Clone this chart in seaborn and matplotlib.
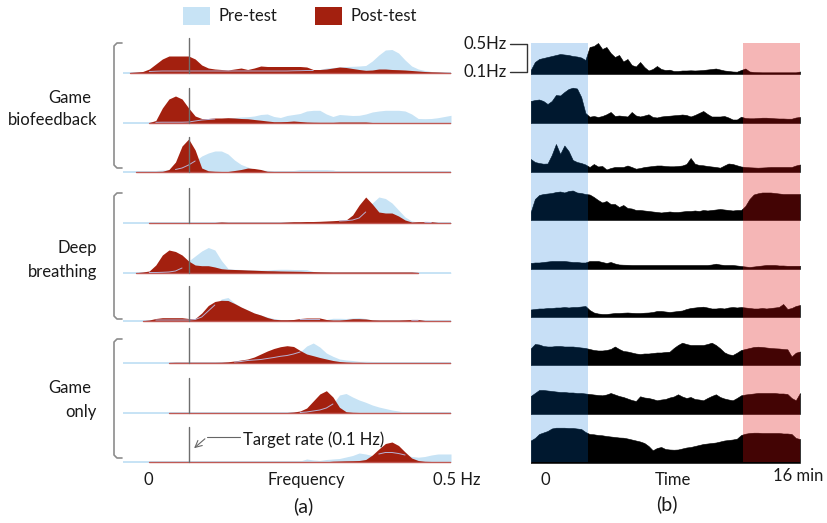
import numpy as np
import matplotlib
matplotlib.use("Agg")
import matplotlib.pyplot as plt
from matplotlib.patches import Rectangle
import seaborn as sns

# ---- data ------------------------------------------------------------------
freq = np.linspace(0, 0.5, 51)       # Hz, spectra grid
minutes = np.linspace(0, 16, 65)     # session time grid
target_hz = 0.1
pre_window = [0, 3.4]                # min, pre-test part of the session
post_window = [12.6, 16]             # min, post-test part

# spectra (pre-test / post-test), 3 subjects per group
pre_bio_1 = [0.5, 1, 1.2, 1.5, 1.5, 1.8, 2, 2, 2, 2, 2, 2, 2, 2, 2, 2, 2, 2, 2, 2,
             2, 2, 2, 2, 2, 2, 2.2, 2.3, 2.5, 2.5, 3.5, 5, 5.5, 6, 6.5, 6.7, 7, 7.5, 12, 18,
             23, 23.5, 20, 13, 7, 4, 2.5, 1.5, 1, 0.7, 0.5]
post_bio_1 = [0, 0.5, 1, 1.5, 4, 9, 14, 17, 17, 17, 17, 14, 8, 5, 4, 3.5, 3, 4, 5, 3.5,
              5, 7, 6.5, 6.5, 6.5, 6.5, 6.5, 6.5, 6, 3.5, 3.5, 4, 5, 6, 5.5, 4.5, 3.5, 2.7, 3, 4,
              4, 3.5, 3.3, 3, 2.5, 2, 1.5, 1.2, 1, 0.7, 0.5]
pre_bio_2 = [0.5, 0.5, 0.5, 0.5, 0.5, 0.7, 0.8, 0.8, 0.8, 0.8, 1, 2, 3, 3.5, 4, 4.5, 5, 5.5, 6, 6.3,
             7, 8.5, 9, 6.5, 5.5, 7.5, 8.5, 9.5, 12, 12.7, 12.7, 9, 6.5, 8.5, 8, 7.5, 7.7, 9, 11, 12,
             12.7, 12.7, 12.7, 12, 9, 4.5, 4.3, 4.5, 5.3, 6.5, 7.7]
post_bio_2 = [0, 0, 0, 0, 0.5, 2.5, 15, 24, 27, 24, 15, 7, 4.5, 4.5, 5, 5, 5.3, 5, 4.5, 4.3,
              3.5, 2.8, 2, 1.3, 1.3, 1.5, 2, 1.5, 1, 0.8, 0.7, 0.7, 0.7, 1, 1, 1, 1, 1, 0.5, 0.3,
              0.3, 0.3, 0.3, 0.3, 0.3, 0.3, 0.3, 0.3, 0.3, 0.3, 0.3]
pre_bio_3 = [0.7, 0.7, 0.5, 0.5, 1, 1.5, 2, 2.2, 2.5, 4, 7, 11, 16, 19, 21, 21, 18, 12, 7.5, 5,
             2.5, 2, 1.7, 1.2, 1, 0.7, 1.5, 2.3, 2.3, 2.3, 2.3, 2.3, 2, 0.5, 0.3, 0.3, 0.3, 0.3, 0.3, 0.3,
             0.3, 0.3, 0.3, 0.3, 0.3, 0.3, 0.3, 0.3, 0.3, 0.3, 0.3]
post_bio_3 = [0, 0, 0.3, 0.3, 0.3, 0.5, 0.7, 2.5, 10, 26, 33, 22, 4, 1.2, 0.7, 0.5, 0.5, 1.5, 2.5, 4,
              3.5, 2.5, 0.7, 0.5, 0.3, 0.3, 0.3, 0.3, 0.3, 0.3, 0.3, 0.3, 0.3, 0.3, 0.3, 0.3, 0.3, 0.3, 0.3, 0.3,
              0.3, 0.3, 0.3, 0.3, 0.3, 0.3, 0.3, 0.3, 0.3, 0.3, 0.3]
pre_deep_1 = [0.5, 0.5, 0.5, 0.5, 0.5, 1, 1, 1, 1, 1, 0.7, 0.7, 0.7, 0.7, 1, 1, 1, 1, 1, 1,
              1, 1, 1, 1, 1.2, 1.2, 1.3, 1.3, 1.4, 1.4, 1.5, 1.5, 1.8, 2, 2.3, 3, 5, 11, 20, 26,
              24.5, 20, 13, 6, 2, 1, 0.7, 0.5, 0.5, 0.5, 0.5]
post_deep_1 = [0, 0, 0, 0, 0.3, 0.5, 0.5, 0.5, 0.5, 0.5, 0.5, 0.5, 0.5, 0.5, 0.5, 1, 0.7, 0.7, 0.7, 0.7,
               0.7, 0.7, 0.7, 0.7, 0.7, 1, 1.3, 1.3, 1.5, 1.5, 1.7, 2, 2.3, 2.7, 3, 8, 18, 26, 19, 11,
               10, 10, 7, 3, 1, 1.3, 1.3, 1.3, 0.5, 0.5, 0.5]
pre_deep_2 = [0.5, 0.5, 0.5, 0.5, 0.5, 0.5, 0.7, 1, 2, 5, 12, 17, 22, 25.5, 23, 12.5, 4.5, 3.7, 3.5, 3.3,
              3, 3, 3, 3.5, 3.7, 3.7, 3.5, 3.5, 3.3, 1.5, 0.8, 0.7, 0.7, 0.7, 0.7, 0.7, 0.7, 0.7, 0.7, 0.7,
              0.7, 0.7, 0.7, 0.7, 0.7, 0.7, 0.7, 0.7, 0.7, 0.7, 0.7]
post_deep_2 = [0, 0, 0.3, 1, 2, 8, 18, 23, 21.5, 18, 12, 8, 7.3, 7.3, 6, 4.3, 3.7, 3.5, 3.3, 3,
               2.8, 2.5, 2.3, 2.2, 2, 1.9, 1.8, 1.7, 1.5, 1.4, 1.2, 1.1, 1, 1, 1, 1, 1, 1, 1, 1,
               1, 1, 1, 1, 1, 0.5, 0, 0, 0, 0, 0]
pre_deep_3 = [0.7, 0.7, 0.7, 0.7, 1, 1, 1, 1, 1, 1, 1, 1.5, 4, 10, 16, 22, 23.5, 18, 14, 11,
              8, 6, 4, 2.5, 1.5, 1.2, 1.2, 1.5, 1.5, 1.5, 1.5, 1.5, 2.7, 2.7, 2.5, 3, 3.3, 2.5, 1, 0.7,
              0.7, 0.7, 0.7, 0.7, 0.7, 0.7, 0.7, 0.7, 0.7, 0.7, 0.7]
post_deep_3 = [0, 0, 0, 0.3, 1, 2.5, 3.3, 3.3, 3.3, 3.3, 2.5, 2.5, 8, 15.5, 19.5, 20.7, 20.5, 17.5, 14, 11,
               8, 6, 3.5, 1.7, 1.3, 1.3, 1.5, 2.5, 3, 3, 3, 1.5, 1, 1, 1.5, 2.3, 2.3, 2, 1.2, 1,
               1, 1, 1, 1.2, 1.5, 1.5, 0.5, 0.3, 0.3, 0.3, 0.3]
pre_only_1 = [0.5, 0.5, 0.5, 0.5, 0.5, 0.5, 0.5, 0.5, 0.5, 0.5, 0.5, 0.5, 0.5, 0.5, 0.5, 0.5, 0.7, 1, 1.5, 2.5,
              3, 3.5, 4.5, 5.5, 6.7, 7.5, 9, 11, 17, 20, 16, 10, 6.7, 4, 3, 2.5, 1.7, 1.7, 1.5, 0.5,
              0.4, 0.4, 0.4, 0.4, 0.4, 0.4, 0.4, 0.4, 0.4, 0.4, 0.4]
post_only_1 = [0, 0, 0, 0, 0, 0, 0, 0.5, 0.7, 0.7, 0.7, 0.7, 0.7, 0.7, 0.7, 0.8, 1.2, 2, 3, 4,
               6, 9, 12, 14.5, 16.3, 17.3, 16.5, 12.5, 9, 7.3, 5.5, 4, 2.5, 1.5, 1, 0.7, 0.7, 0.5, 0.3, 0.3,
               0.3, 0.3, 0.3, 0.3, 0.3, 0.3, 0.3, 0.3, 0.3, 0.3, 0.3]
pre_only_2 = [0.5, 0.5, 0.5, 0.5, 0.5, 0.5, 0.5, 0.5, 0.5, 0.5, 0.5, 0.5, 0.5, 0.5, 0.5, 0.5, 0.5, 0.5, 0.5, 0.5,
              0.5, 0.5, 0.5, 0.5, 0.5, 0.5, 0.5, 0.5, 1, 2, 3, 5, 9, 18, 19.5, 16, 13, 10.7, 8, 6,
              4.5, 3, 2, 1, 0.5, 0.5, 0.5, 0.5, 0.5, 0.5, 0.5]
post_only_2 = [0, 0, 0, 0, 0, 0, 0, 0.5, 0.5, 0.5, 0.5, 0.5, 0.5, 0.5, 0.5, 0.5, 0.5, 0.5, 0.5, 0.5,
               0.5, 0.5, 0.5, 0.5, 0.5, 0.5, 1, 2, 5, 12, 19, 22.3, 16, 5.7, 1.3, 0.7, 0.5, 0.5, 0.5, 0.5,
               0.5, 0.5, 0.5, 0.3, 0.3, 0.3, 0.3, 0.3, 0.3, 0.3, 0.3]
pre_only_3 = [0.7, 0.7, 0.7, 0.5, 0.3, 0.3, 0.3, 0.3, 0.3, 0.3, 0.3, 0.3, 0.3, 0.3, 0.3, 0.3, 0.3, 0.3, 0.3, 0.3,
              0.3, 0.3, 0.3, 0.3, 0.3, 0.3, 0.3, 1, 3, 2, 1.5, 2.5, 3, 3.5, 5, 6.5, 9, 8, 6.5, 8,
              9.5, 9.5, 8.5, 7, 5.5, 4.8, 5.5, 7, 8, 8, 8]
post_only_3 = [0, 0, 0, 0, 0.3, 0.3, 0.3, 0.3, 0.3, 0.3, 0.3, 0.3, 0.3, 0.3, 0.3, 0.3, 0.3, 0.3, 0.3, 0.3,
               0.3, 0.3, 0.3, 0.3, 0.3, 0.3, 0.3, 0.3, 0.3, 0.3, 0.3, 0.3, 0.8, 1, 1.2, 1.3, 1.5, 2.5, 7, 13,
               18.5, 20, 16.5, 10, 4, 1.5, 0.7, 0.5, 0.3, 0.3, 0.3]

# low-frequency power over the whole session, same 9 subjects
trace_1 = [3, 11, 14, 15, 16, 17, 18, 19, 18.5, 18, 17, 16.5, 15.5, 13, 26, 27, 30, 24, 26, 20,
           16, 18, 11.5, 14, 8, 6.5, 11, 6, 2.5, 4, 7, 4, 3, 3.3, 2, 2, 2.5, 2.5, 2.7, 2.5,
           2.7, 3, 3.5, 4, 4.5, 3.5, 2.5, 2, 1.5, 1.3, 3, 4.5, 1.5, 1, 0.8, 0.7, 0.7, 0.7, 0.7, 0.7,
           0.7, 0.7, 0.7, 0.7, 1.5]
trace_2 = [21, 22, 22.5, 21, 18, 21, 27, 26.5, 30, 33, 34.3, 33.5, 25, 9, 5.3, 6, 5, 6, 7.7, 10,
           6, 6.5, 6, 5.5, 10, 6.5, 5.5, 6.5, 7.7, 5, 4.5, 5.5, 6, 6.3, 6.7, 7, 7.5, 7, 5.5, 7,
           9, 11, 8, 5.5, 5.5, 5.5, 6, 4.5, 2.5, 2.5, 5.3, 4, 3.7, 3.7, 4, 4.3, 4.3, 4, 3.7, 3.5,
           3.5, 3.3, 3.3, 4.5, 5]
trace_3 = [12, 9, 8, 7.3, 7.5, 16, 27, 17, 25.5, 20, 11, 9, 8, 6.5, 4, 7, 4.5, 5, 1.5, 3,
           4, 4, 4, 5.5, 4, 2.3, 3, 4, 4.5, 5, 5.5, 5.5, 5, 4.7, 4.7, 5, 5.5, 7, 13, 7.3,
           6, 5.7, 5, 4.5, 4, 3.3, 5.5, 7.5, 7, 5.7, 4.5, 4, 3.7, 3.5, 3.3, 3.5, 3.7, 4, 4, 4,
           4, 4, 4, 5.5, 6.5]
trace_4 = [7, 20, 24, 25, 25.5, 26, 27, 27.5, 26.5, 28, 28.5, 26.5, 26, 25, 24.5, 22, 19, 16.5, 18, 15,
           15, 12, 14, 11, 10.5, 9, 9, 8.5, 8, 7.5, 7, 6.5, 7, 7.5, 7, 7, 7.5, 8, 8, 8.5,
           8, 9, 8.5, 9, 9.5, 10, 9.5, 9, 8.5, 9, 9, 13, 20, 24.5, 25.7, 26.5, 26.5, 26.5, 26, 25.5,
           25, 25, 25, 25, 25]
trace_5 = [5, 5.5, 5.5, 6, 6.5, 7, 7, 7, 7, 6.5, 6, 6, 5.5, 5.5, 7, 7, 7, 6, 5, 6,
           4.5, 3.5, 3.3, 3.2, 3, 3, 3, 3, 3, 3, 3, 3, 3, 3, 3, 3, 3, 3, 3, 3,
           3, 3, 3, 3.5, 4.3, 3.5, 3, 3, 3, 2.5, 2, 1.5, 1, 1.5, 2, 2.5, 3, 3, 3, 2.5,
           2.5, 2.2, 2.2, 2.2, 2.2]
trace_6 = [6.5, 7, 7.5, 7.5, 8, 8, 8.5, 8.5, 9, 8.5, 9, 9, 9.5, 10, 6, 3.5, 2.5, 2, 2, 2.5,
           3, 3, 3.3, 3.5, 3.2, 3, 3, 3.3, 3.5, 4, 5, 5, 4.5, 4, 4.5, 5, 5.5, 7, 8, 8.5,
           9, 9.3, 8.5, 7.5, 7.5, 8, 7.5, 8.5, 9, 8.5, 9, 8.5, 8, 7.5, 7.5, 8, 7.5, 8, 8.5, 9,
           12, 7, 8, 10, 11]
trace_7 = [15.5, 20, 19.5, 18, 17.5, 17.5, 18, 18, 17.5, 17.5, 17.5, 17, 16.5, 16, 15, 14, 13.5, 13.5, 14, 15,
           17.5, 15, 13, 12.5, 11.5, 10.5, 10, 10.5, 10.5, 11, 11.5, 11.5, 12, 12.3, 16, 19, 21.3, 20, 19, 19,
           19, 19, 20, 21.3, 19, 15.7, 11.7, 9.7, 9, 11.3, 14, 15, 16, 17, 17.3, 17, 16.5, 16, 15.7, 15.5,
           15, 14.7, 7.5, 11.3, 12.5]
trace_8 = [17, 20, 23, 23, 22.5, 22, 21.5, 21, 21, 20.5, 20.5, 20, 20, 19.5, 19, 18.5, 18, 17.7, 18.5, 20,
           18.5, 17, 16, 14.5, 13, 12, 16.7, 15.5, 15, 14, 12.7, 13.5, 14, 15.5, 16.5, 18.7, 16.5, 15, 16, 14,
           13.5, 12.7, 15, 17, 18.7, 16, 14.5, 13.5, 12.7, 15, 17.7, 18.5, 19, 19.5, 20, 20, 20, 20, 20, 19.5,
           19.5, 19, 15, 12.7, 20]
trace_9 = [21.5, 24, 28, 29.5, 31, 33.5, 34.3, 34.3, 34.3, 34, 34, 33.5, 33, 30, 28, 27.7, 27, 26.7, 26, 25.5,
           25, 24.5, 24.3, 23.5, 22.5, 21.5, 20.5, 19, 16, 11.7, 14, 15, 13, 12.5, 12.3, 12.5, 13.5, 14.5, 15, 16,
           17, 18, 18.5, 19, 19.5, 20.5, 21.5, 22, 22.5, 23.3, 27, 28.3, 29, 29.3, 29.3, 29, 29, 29, 29, 29,
           28.5, 28.5, 28, 24, 23]

pre_spectra = [pre_bio_1, pre_bio_2, pre_bio_3, pre_deep_1, pre_deep_2, pre_deep_3,
               pre_only_1, pre_only_2, pre_only_3]
post_spectra = [post_bio_1, post_bio_2, post_bio_3, post_deep_1, post_deep_2, post_deep_3,
                post_only_1, post_only_2, post_only_3]
traces = [trace_1, trace_2, trace_3, trace_4, trace_5, trace_6, trace_7, trace_8, trace_9]

# ---- layout (figure pixels, y down) ------------------------------------------
W, H = 827, 523
ridge_base = [73, 123, 172, 223, 273, 321, 363, 413, 462]
trace_base = [73, 122, 171, 219, 268, 316, 364, 413, 462]
PRE_C = "#c7e3f5"
POST_C = "#a3200f"
TXT = "#1a1a1a"
FS = 12

sns.set_theme(style="white")
plt.rcParams["font.family"] = ["Lato", "DejaVu Sans"]

fig = plt.figure(figsize=(W / 100, H / 100), dpi=100)


def px_axes(x0, x1):
    ax = fig.add_axes([x0 / W, 0, (x1 - x0) / W, 1])
    ax.patch.set_visible(False)
    return ax


# ---- (a) spectra ridges -----------------------------------------------------
ax_a = px_axes(123, 451)
for base, pre, post in zip(ridge_base, pre_spectra, post_spectra):
    pre = np.asarray(pre, float)
    post = np.asarray(post, float)
    post = np.where(post > 0, post, np.nan)
    ax_a.fill_between(freq, base, base - pre, color=PRE_C, lw=0, zorder=2)
    sns.lineplot(x=freq, y=np.full_like(freq, base), ax=ax_a, color=PRE_C, lw=1.4, zorder=2)
    ax_a.fill_between(freq, base, base - post, color=POST_C, lw=0, zorder=3)
    ax_a.plot(freq, np.where(np.isnan(post), np.nan, base), color="#c05a55", lw=1.0, zorder=3)
    # pre-test outline shows through the post-test fill only
    hidden = np.where(post > pre + 0.5, base - pre, np.nan)
    ax_a.plot(freq, hidden, color="#b8b2d4", lw=0.7, zorder=4)
    ax_a.plot([target_hz, target_hz], [base, base - 35], color="#6e6e6e", lw=1.0, zorder=5)
ax_a.set_xlim(0, 0.5)
ax_a.set_ylim(H, 0)
ax_a.axis("off")

# ---- (b) session traces -----------------------------------------------------
ax_b = px_axes(530.7, 800)
for base, tr in zip(trace_base, traces):
    ax_b.fill_between(minutes, base + 1, base - np.asarray(tr, float), color="black", lw=0.4)
ax_b.fill_between(pre_window, 43, 462, color="#0070d8", alpha=0.22, lw=0, zorder=5)
ax_b.fill_between(post_window, 43, 462, color="#e01010", alpha=0.30, lw=0, zorder=5)
ax_b.set_xlim(0, 16)
ax_b.set_ylim(H, 0)
ax_b.axis("off")

# ---- labels, brackets, legend ----------------------------------------------
ov = fig.add_axes([0, 0, 1, 1])
ov.patch.set_visible(False)
ov.set_xlim(0, W)
ov.set_ylim(H, 0)
ov.axis("off")

groups = [(("Game", 98), ("biofeedback", 120), 43, 168),
          (("Deep", 248), ("breathing", 272), 193, 319),
          (("Game", 388), ("only", 412), 339, 458)]
for (w1, y1), (w2, y2), top, bot in groups:
    ov.text(91 if w1 == "Game" else 97, y1, w1, ha="right", va="center", fontsize=FS, color=TXT)
    ov.text(97, y2, w2, ha="right", va="center", fontsize=FS, color=TXT)
    ov.plot([122, 117, 114, 114, 117, 122], [top, top, top + 3, bot - 3, bot, bot],
            color="#8c8c8c", lw=1.2)

ov.text(148, 480, "0", ha="center", va="center", fontsize=FS, color=TXT)
ov.text(306, 480, "Frequency", ha="center", va="center", fontsize=FS, color=TXT)
ov.text(457, 480, "0.5 Hz", ha="center", va="center", fontsize=FS, color=TXT)
ov.text(545, 480, "0", ha="center", va="center", fontsize=FS, color=TXT)
ov.text(673, 480, "Time", ha="center", va="center", fontsize=FS, color=TXT)
ov.text(798, 476, "16 min", ha="center", va="center", fontsize=FS, color=TXT)
ov.text(303, 506, "(a)", ha="center", va="center", fontsize=14, color=TXT)
ov.text(667, 504, "(b)", ha="center", va="center", fontsize=14, color=TXT)

ov.text(507, 44, "0.5Hz", ha="right", va="center", fontsize=FS, color=TXT)
ov.text(507, 72, "0.1Hz", ha="right", va="center", fontsize=FS, color=TXT)
ov.plot([510, 527, 527, 510], [44, 44, 72, 72], color="#333333", lw=1.0)

ov.text(243, 440, "Target rate (0.1 Hz)", ha="left", va="center", fontsize=FS, color=TXT)
ov.plot([240, 207], [437, 437], color="#666666", lw=0.8)
ov.annotate("", xy=(192, 450), xytext=(207, 437),
            arrowprops=dict(arrowstyle="->", color="#666666", lw=0.8))

# legend drawn as swatches + labels
for x0, colour, label in [(183, PRE_C, "Pre-test"), (315, POST_C, "Post-test")]:
    ov.add_patch(Rectangle((x0, 7), 27, 18, color=colour, lw=0))
    ov.text(x0 + 35, 16, label, ha="left", va="center", fontsize=FS, color=TXT)

fig.savefig("out.png", dpi=100)
